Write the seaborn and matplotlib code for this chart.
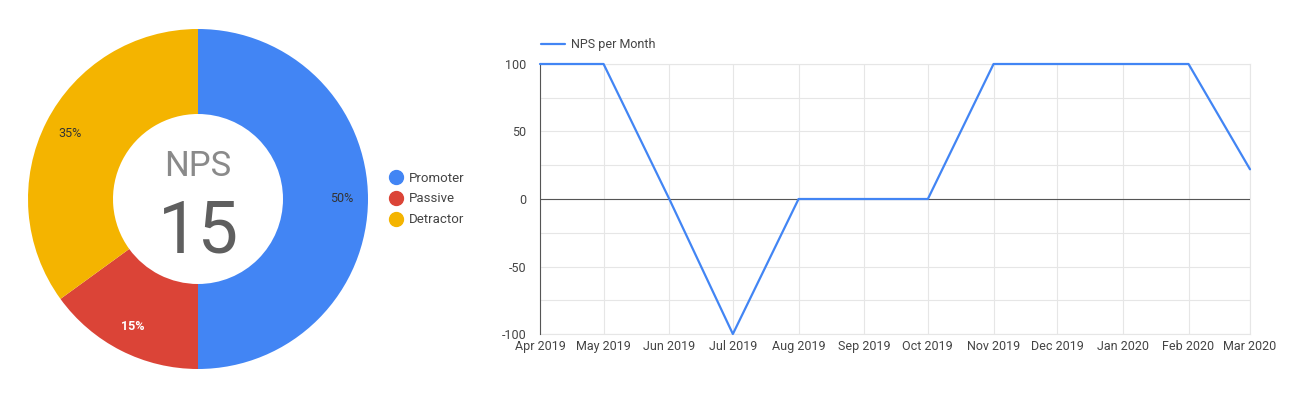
import matplotlib
matplotlib.use('Agg')
import matplotlib.pyplot as plt
import matplotlib.dates as mdates
from matplotlib.lines import Line2D
import seaborn as sns
import pandas as pd
import numpy as np

# donut data
segments = ['Promoter', 'Passive', 'Detractor']
shares = [50, 15, 35]
seg_colors = ['#4285F4', '#DB4437', '#F4B400']
nps_score = 15

# line data
months = ['2019-04', '2019-05', '2019-06', '2019-07', '2019-08', '2019-09',
          '2019-10', '2019-11', '2019-12', '2020-01', '2020-02', '2020-03']
nps_values = [100, 100, 0, -100, 0, 0, 0, 100, 100, 100, 100, 22]

sns.set_theme(style='white')
plt.rcParams['font.family'] = ['Roboto', 'DejaVu Sans']
plt.rcParams['axes.unicode_minus'] = False

fig = plt.figure(figsize=(12.99, 4.0), dpi=100)
W, H = 1299, 400

# ---- donut ----
ax_pie = fig.add_axes([28 / W, 31 / H, 340 / W, 340 / H])
wedges, _, autotexts = ax_pie.pie(
    shares, colors=seg_colors, startangle=90, counterclock=False,
    radius=1.0, autopct='%d%%', pctdistance=0.845,
    wedgeprops=dict(width=0.5, linewidth=0),
    textprops=dict(fontsize=9, color='#333333'))
for t, c in zip(autotexts, ['#333333', 'white', '#333333']):
    t.set_color(c)
autotexts[1].set_fontweight('bold')
ax_pie.set_xlim(-1, 1)
ax_pie.set_ylim(-1, 1)
ax_pie.set_aspect('equal')
ax_pie.text(0, 0.19, 'NPS', ha='center', va='center', fontsize=25, color='#8a8a8a')
ax_pie.text(0, -0.2, str(nps_score), ha='center', va='center', fontsize=52, color='#5f5f5f')

handles = [Line2D([0], [0], marker='o', linestyle='', markersize=10,
                  markerfacecolor=c, markeredgecolor=c) for c in seg_colors]
fig.legend(handles, segments, loc='center left', bbox_to_anchor=(371 / W, 1 - 199 / H),
           frameon=False, fontsize=9.5, handletextpad=0.0, labelspacing=0.6,
           labelcolor='#444444')

# ---- line chart ----
df = pd.DataFrame({'month': pd.to_datetime(months), 'nps': nps_values})
ax = fig.add_axes([540 / W, 66 / H, 710 / W, 270 / H])
sns.lineplot(data=df, x='month', y='nps', ax=ax, color='#4285F4', linewidth=1.6,
             label='NPS per Month', zorder=5, clip_on=False)
ax.set_xlim(df['month'].iloc[0], df['month'].iloc[-1])
ax.set_ylim(-100, 100)
ax.set_yticks([-100, -50, 0, 50, 100])
ax.set_yticks(np.arange(-100, 101, 25), minor=True)
ax.set_xticks(df['month'])
ax.xaxis.set_major_formatter(mdates.DateFormatter('%b %Y'))
ax.grid(True, which='both', color='#e6e6e6', linewidth=0.8)
ax.set_axisbelow(True)
ax.axhline(0, color='#555555', linewidth=0.8, zorder=1.5)
ax.set_xlabel('')
ax.set_ylabel('')
ax.tick_params(axis='both', which='both', length=0, labelsize=9, labelcolor='#444444')
ax.tick_params(axis='y', pad=10)
ax.tick_params(axis='x', pad=4)
for side in ['top', 'right', 'bottom']:
    ax.spines[side].set_color('#e6e6e6')
    ax.spines[side].set_linewidth(0.8)
    ax.spines[side].set_zorder(0.5)
ax.spines['left'].set_color('#555555')
ax.spines['left'].set_linewidth(0.8)
ax.legend(loc='lower left', bbox_to_anchor=(-0.005, 1.03), frameon=False, fontsize=9,
          handlelength=1.9, handletextpad=0.5, labelcolor='#444444', borderaxespad=0)

fig.savefig('out.png', dpi=100)
